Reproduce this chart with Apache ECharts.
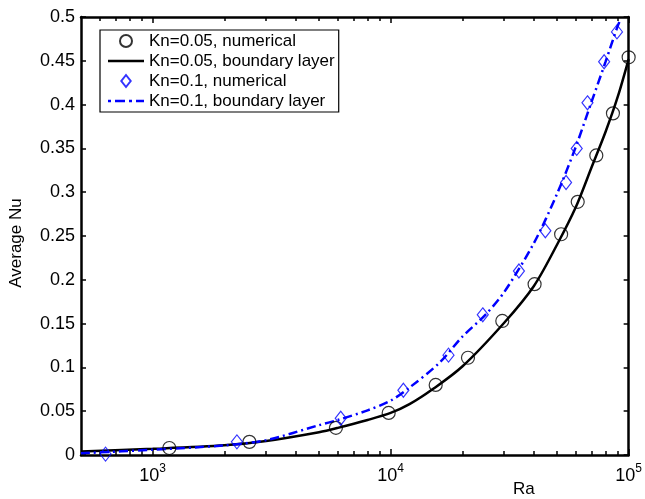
<!DOCTYPE html>
<html>
<head>
<meta charset="utf-8">
<script src="https://cdn.jsdelivr.net/npm/echarts@6/dist/echarts.min.js"></script>
<style>
  html, body { margin: 0; padding: 0; background: #fff; }
  #main { width: 645px; height: 499px; }
</style>
</head>
<body>
<div id="main"></div>
<script>
// Kn=0.05 数值解 (圆圈)
var raKn05Num = [1175, 2550, 5890, 9810, 15460, 21130, 29450, 40250, 52030, 61090, 73130, 85900, 100000];
var nuKn05Num = [0.008, 0.015, 0.031, 0.048, 0.080, 0.111, 0.153, 0.195, 0.252, 0.289, 0.342, 0.390, 0.454];
// Kn=0.05 边界层解 (黑实线)
var raKn05Bl = [500, 1000, 2000, 3000, 5000, 6000, 8000, 10000, 12000, 15000, 20000, 30000, 40000, 50000, 60000, 70000, 80000, 90000, 100000];
var nuKn05Bl = [0.004, 0.007, 0.011, 0.016, 0.026, 0.031, 0.040, 0.048, 0.058, 0.075, 0.101, 0.151, 0.193, 0.240, 0.283, 0.329, 0.369, 0.409, 0.452];
// Kn=0.1 数值解 (菱形)
var raKn01Num = [634, 2260, 6170, 11310, 17500, 24380, 34590, 44670, 54580, 60510, 67140, 78880, 89320];
var nuKn01Num = [0.001, 0.015, 0.042, 0.074, 0.114, 0.160, 0.210, 0.256, 0.311, 0.350, 0.402, 0.449, 0.483];
// Kn=0.1 边界层解 (蓝色点划线)
var raKn01Bl = [500, 1000, 2000, 3000, 5000, 6000, 8000, 10000, 12000, 16000, 20000, 25000, 30000, 40000, 50000, 60000, 70000, 80000, 90000, 92000];
var nuKn01Bl = [0.002, 0.006, 0.011, 0.017, 0.034, 0.040, 0.051, 0.062, 0.077, 0.105, 0.135, 0.160, 0.186, 0.242, 0.298, 0.352, 0.404, 0.449, 0.490, 0.496];

var seriesNames = ['Kn=0.05, numerical', 'Kn=0.05, boundary layer', 'Kn=0.1, numerical', 'Kn=0.1, boundary layer'];
var xMajorTicks = [1000, 10000, 100000];
var xMinorTicks = [600, 700, 800, 900, 2000, 3000, 4000, 5000, 6000, 7000, 8000, 9000,
                   20000, 30000, 40000, 50000, 60000, 70000, 80000, 90000];

function pairs(xs, ys) {
    var out = [];
    for (var i = 0; i < xs.length; i++) out.push([xs[i], ys[i]]);
    return out;
}

var myChart = echarts.init(document.getElementById('main'));
var font = 'Liberation Sans, Arial, Helvetica, sans-serif';

// 图例图标: 实线, 点划线, 菱形
var iconSolid = 'path://M0,0h36v2.5h-36z';
var iconDashDot = 'path://M0,0h3v2.5h-3zM7,0h10v2.5h-10zM21,0h3v2.5h-3zM28,0h8v2.5h-8z';
var iconDiamond = 'path://M5.5,0L11,7L5.5,14L0,7Z';

// x轴: 底部/顶部, 主刻度和次刻度分开画
function logAxis(pos, ticks, len, withLabel, withLine) {
    return {
        type: 'log', logBase: 10, min: 500, max: 100000, position: pos,
        axisLine: { show: withLine, lineStyle: { color: '#000', width: 2.5 } },
        axisTick: { show: true, inside: true, length: len, customValues: ticks,
                    lineStyle: { color: '#000', width: 1.5 } },
        axisLabel: {
            show: withLabel, customValues: xMajorTicks, margin: 8, color: '#000',
            formatter: function (v) { return '{b|10}{e|' + Math.round(Math.log10(v)) + '}'; },
            rich: {
                b: { fontSize: 18, fontFamily: font, color: '#000', lineHeight: 22, verticalAlign: 'bottom' },
                e: { fontSize: 12, fontFamily: font, color: '#000', lineHeight: 22, verticalAlign: 'top' }
            }
        },
        splitLine: { show: false }
    };
}

function valAxis(pos, withLabel) {
    return {
        type: 'value', min: 0, max: 0.5, interval: 0.05, position: pos,
        name: withLabel ? 'Average Nu' : '', nameLocation: 'middle', nameGap: 56,
        nameTextStyle: { color: '#000', fontSize: 17, fontFamily: font, padding: [0, 14, 0, 0] },
        axisLine: { show: true, lineStyle: { color: '#000', width: 2.5 } },
        axisTick: { show: true, inside: true, length: 5, lineStyle: { color: '#000', width: 1.5 } },
        axisLabel: { show: withLabel, color: '#000', fontSize: 18, fontFamily: font, margin: 6 },
        splitLine: { show: false }
    };
}

var option = {
    animation: false,
    backgroundColor: '#fff',
    grid: { left: 77, right: 13, top: 17, bottom: 44 },
    legend: {
        orient: 'vertical', left: 100, top: 30,
        data: [
            { name: seriesNames[0], icon: 'circle' },
            { name: seriesNames[1], icon: iconSolid },
            { name: seriesNames[2], icon: iconDiamond },
            { name: seriesNames[3], icon: iconDashDot }
        ],
        backgroundColor: '#fff', borderColor: '#000', borderWidth: 1.2,
        padding: [1, 4, 1, 8], itemGap: 0, itemWidth: 36, itemHeight: 12,
        textStyle: { color: '#000', fontSize: 17, fontFamily: font, lineHeight: 20 }
    },
    xAxis: [
        logAxis('bottom', xMajorTicks, 6, true, true),
        logAxis('bottom', xMinorTicks, 4, false, false),
        logAxis('top', xMajorTicks, 6, false, true),
        logAxis('top', xMinorTicks, 4, false, false)
    ],
    yAxis: [valAxis('left', true), valAxis('right', false)],
    graphic: [{
        type: 'text', left: 513, top: 481,
        style: { text: 'Ra', fill: '#000', fontSize: 17, fontFamily: font }
    }],
    series: [
        {
            name: seriesNames[0], type: 'scatter', symbol: 'circle', symbolSize: 13,
            itemStyle: { color: 'rgba(0,0,0,0)', borderColor: '#000', borderWidth: 1.2 },
            data: pairs(raKn05Num, nuKn05Num), z: 3
        },
        {
            name: seriesNames[1], type: 'line', symbol: 'none', smooth: 0.3,
            lineStyle: { color: '#000', width: 2.5 }, itemStyle: { color: '#000' },
            data: pairs(raKn05Bl, nuKn05Bl), z: 2
        },
        {
            name: seriesNames[2], type: 'scatter', symbol: 'diamond', symbolSize: [11, 14],
            itemStyle: { color: 'rgba(0,0,0,0)', borderColor: '#0000ff', borderWidth: 1.2 },
            data: pairs(raKn01Num, nuKn01Num), z: 3
        },
        {
            name: seriesNames[3], type: 'line', symbol: 'none', smooth: 0.3,
            lineStyle: { color: '#0000ff', width: 2.5, type: [9, 4, 2, 4] }, itemStyle: { color: '#0000ff' },
            data: pairs(raKn01Bl, nuKn01Bl), z: 2
        }
    ]
};
myChart.setOption(option);
</script>
</body>
</html>
